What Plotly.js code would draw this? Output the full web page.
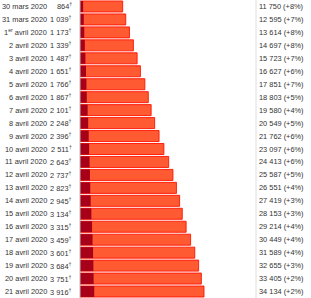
<!DOCTYPE html>
<html>
<head>
<meta charset="utf-8">
<script src="https://cdn.plot.ly/plotly-3.0.1.min.js"></script>
<style>html,body{margin:0;padding:0;background:#fff;}#chart{width:311px;height:298px;}</style>
</head>
<body>
<div id="chart"></div>
<script>
const dates = ["30 mars 2020","31 mars 2020","1<sup>er</sup> avril 2020","2 avril 2020","3 avril 2020","4 avril 2020","5 avril 2020","6 avril 2020","7 avril 2020","8 avril 2020","9 avril 2020","10 avril 2020","11 avril 2020","12 avril 2020","13 avril 2020","14 avril 2020","15 avril 2020","16 avril 2020","17 avril 2020","18 avril 2020","19 avril 2020","20 avril 2020","21 avril 2020"];
const deaths = [864,1039,1173,1339,1487,1651,1766,1867,2101,2248,2396,2511,2643,2737,2823,2945,3134,3315,3459,3601,3684,3751,3916];
const cases = [11750,12595,13614,14697,15723,16627,17851,18803,19580,20549,21762,23097,24413,25587,26551,27419,28153,29214,30449,31589,32655,33405,34134];
const growth = ["+8%","+7%","+8%","+8%","+7%","+6%","+7%","+5%","+4%","+5%","+6%","+6%","+6%","+5%","+4%","+3%","+3%","+4%","+4%","+4%","+3%","+2%","+2%"];

function fmt(n){ return String(n).replace(/\B(?=(\d{3})+(?!\d))/g, "\u00a0"); }

const font = {family: "Liberation Sans, Arial, sans-serif", size: 7.4, color: "#333"};
const idx = dates.map((d,i)=>i);

const traces = [
  {type:"bar", orientation:"h", y: idx, x: cases,
   marker:{color:"rgb(255,90,50)", line:{color:"rgba(255,20,0,0.9)", width:1}},
   hoverinfo:"skip"},
  {type:"bar", orientation:"h", y: idx, x: deaths,
   marker:{color:"rgb(168,0,24)", line:{width:0}},
   hoverinfo:"skip"}
];

const annotations = [];
idx.forEach(i=>{
  annotations.push({xref:"paper", yref:"y", x:0, y:i, xanchor:"right", yanchor:"middle", xshift:-31,
    text: dates[i], showarrow:false, font: font});
  annotations.push({xref:"paper", yref:"y", x:0, y:i, xanchor:"right", yanchor:"middle", xshift:-6,
    text: fmt(deaths[i]) + "<sup>†</sup>", showarrow:false, font: font});
  annotations.push({xref:"paper", yref:"y", x:1, y:i, xanchor:"left", yanchor:"middle", xshift:1,
    text: fmt(cases[i]) + " (" + growth[i] + ")", showarrow:false, font: font});
});

const layout = {
  width:311, height:298,
  margin:{l:80, r:55, t:0, b:0, pad:0},
  barmode:"overlay", bargap:0.15,
  showlegend:false,
  paper_bgcolor:"#fff", plot_bgcolor:"#fff",
  xaxis:{range:[0,48450], visible:false, fixedrange:true},
  yaxis:{range:[dates.length-0.5,-0.5], visible:false, fixedrange:true},
  annotations: annotations,
  shapes:[
    {type:"line", xref:"paper", yref:"paper", x0:0, x1:0, y0:0, y1:1, line:{color:"#bbb", width:1}},
    {type:"line", xref:"paper", yref:"paper", x0:1, x1:1, y0:0, y1:1, line:{color:"#ddd", width:1}}
  ]
};

Plotly.newPlot("chart", traces, layout, {staticPlot:true, displayModeBar:false});
</script>
</body>
</html>
